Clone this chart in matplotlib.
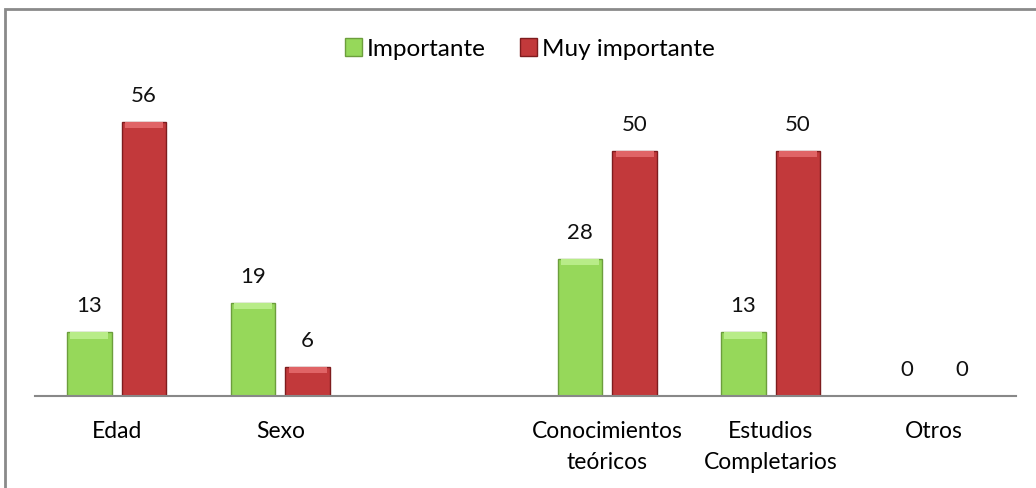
import matplotlib
matplotlib.use('Agg')
import matplotlib.pyplot as plt
from matplotlib.patches import Rectangle
import numpy as np

plt.rcParams['font.family'] = ['Lato', 'DejaVu Sans']

# data
categories = ['Edad', 'Sexo', '', 'Conocimientos\nteóricos', 'Estudios\nCompletarios', 'Otros']
importante = [13, 19, None, 28, 13, 0]
muy_importante = [56, 6, None, 50, 50, 0]
series_names = ['Importante', 'Muy importante']

GREEN = '#96d85a'
GREEN_EDGE = '#6c9e3c'
GREEN_TOP = '#b8ec88'
RED = '#c2393b'
RED_EDGE = '#7e1c1e'
RED_TOP = '#e06466'

W, H = 1036, 488
fig = plt.figure(figsize=(W / 100, H / 100), dpi=100)
ax = fig.add_axes([35 / W, (H - 396) / H, (1016 - 35) / W, 294 / H])

x = np.arange(len(categories))
bw = 0.27
off = 0.167

def draw(vals, dx, face, edge, top):
    for xi, v in zip(x, vals):
        if v is None:
            continue
        if v > 0:
            ax.bar(xi + dx, v, width=bw, color=face, edgecolor=edge, linewidth=1.0, zorder=2)
            band = min(1.3, v * 0.3)
            ax.bar(xi + dx, band, bottom=v - band, width=bw * 0.86, color=top,
                   linewidth=0, zorder=3)
        ax.annotate(str(v), (xi + dx, v), xytext=(0, 11.5), textcoords='offset points',
                    ha='center', va='bottom', fontsize=16, color='#111111')

draw(importante, -off, GREEN, GREEN_EDGE, GREEN_TOP)
draw(muy_importante, off, RED, RED_EDGE, RED_TOP)

ax.set_xlim(-0.5, len(categories) - 0.5)
ax.set_ylim(0, 60)
ax.set_yticks([])
ax.set_xticks(x)
ax.set_xticklabels(categories, fontsize=16.5, linespacing=1.6)
ax.tick_params(axis='x', length=0, pad=18)
for s in ['top', 'right', 'left']:
    ax.spines[s].set_visible(False)
ax.spines['bottom'].set_color('#888888')
ax.spines['bottom'].set_linewidth(1.5)

# legend
handles = [Rectangle((0, 0), 1, 1, facecolor=GREEN, edgecolor=GREEN_EDGE),
           Rectangle((0, 0), 1, 1, facecolor=RED, edgecolor=RED_EDGE)]
fig.legend(handles, series_names, loc='center', bbox_to_anchor=(530 / W, 1 - 49 / H),
           ncol=2, frameon=False, fontsize=17.5, handlelength=0.7, handleheight=0.7,
           handletextpad=0.2, columnspacing=1.4)

# chart border (partially cropped)
fig.add_artist(Rectangle((5 / W, -0.1), 1.2, 1 - 9 / H + 0.1, transform=fig.transFigure,
                         fill=False, edgecolor='#8a8a8a', linewidth=2))

fig.savefig('out.png', dpi=100)
